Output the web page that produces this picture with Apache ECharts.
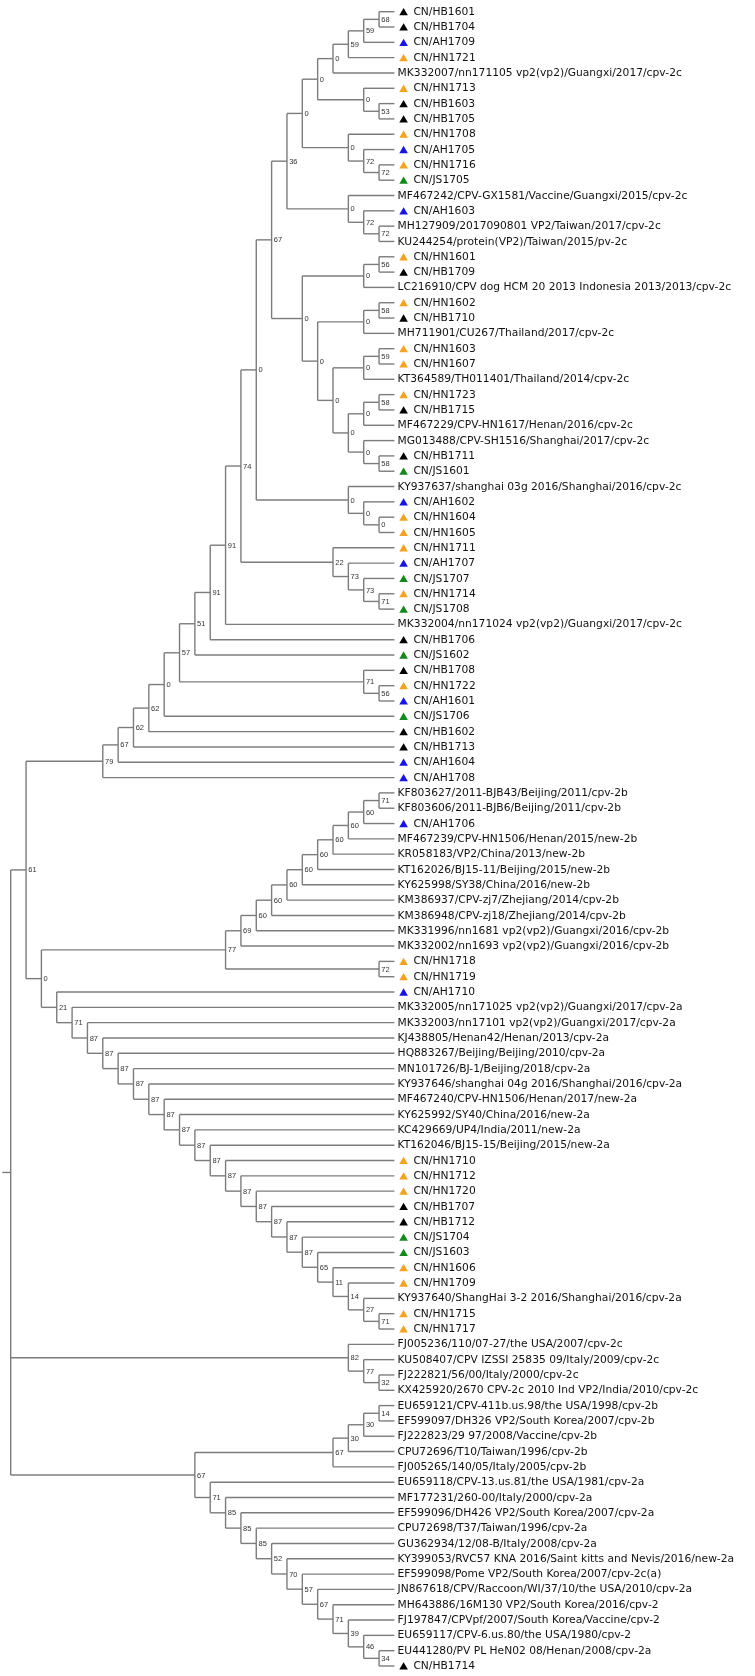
<!DOCTYPE html>
<html>
<head>
<meta charset="utf-8">
<script src="https://cdn.jsdelivr.net/npm/echarts@6/dist/echarts.min.js"></script>
<style>
html,body{margin:0;padding:0;background:#fff;}
#chart{width:755px;height:1676px;}
</style>
</head>
<body>
<div id="chart"></div>
<script>
// ---- Leaf labels (top to bottom) ----
const leafNames = [
  'CN/HB1601','CN/HB1704','CN/AH1709','CN/HN1721',
  'MK332007/nn171105 vp2(vp2)/Guangxi/2017/cpv-2c',
  'CN/HN1713','CN/HB1603','CN/HB1705','CN/HN1708','CN/AH1705','CN/HN1716','CN/JS1705',
  'MF467242/CPV-GX1581/Vaccine/Guangxi/2015/cpv-2c',
  'CN/AH1603',
  'MH127909/2017090801 VP2/Taiwan/2017/cpv-2c',
  'KU244254/protein(VP2)/Taiwan/2015/pv-2c',
  'CN/HN1601','CN/HB1709',
  'LC216910/CPV dog HCM 20 2013 Indonesia 2013/2013/cpv-2c',
  'CN/HN1602','CN/HB1710',
  'MH711901/CU267/Thailand/2017/cpv-2c',
  'CN/HN1603','CN/HN1607',
  'KT364589/TH011401/Thailand/2014/cpv-2c',
  'CN/HN1723','CN/HB1715',
  'MF467229/CPV-HN1617/Henan/2016/cpv-2c',
  'MG013488/CPV-SH1516/Shanghai/2017/cpv-2c',
  'CN/HB1711','CN/JS1601',
  'KY937637/shanghai 03g 2016/Shanghai/2016/cpv-2c',
  'CN/AH1602','CN/HN1604','CN/HN1605','CN/HN1711','CN/AH1707','CN/JS1707','CN/HN1714','CN/JS1708',
  'MK332004/nn171024 vp2(vp2)/Guangxi/2017/cpv-2c',
  'CN/HB1706','CN/JS1602','CN/HB1708','CN/HN1722','CN/AH1601','CN/JS1706','CN/HB1602','CN/HB1713','CN/AH1604','CN/AH1708',
  'KF803627/2011-BJB43/Beijing/2011/cpv-2b',
  'KF803606/2011-BJB6/Beijing/2011/cpv-2b',
  'CN/AH1706',
  'MF467239/CPV-HN1506/Henan/2015/new-2b',
  'KR058183/VP2/China/2013/new-2b',
  'KT162026/BJ15-11/Beijing/2015/new-2b',
  'KY625998/SY38/China/2016/new-2b',
  'KM386937/CPV-zj7/Zhejiang/2014/cpv-2b',
  'KM386948/CPV-zj18/Zhejiang/2014/cpv-2b',
  'MK331996/nn1681 vp2(vp2)/Guangxi/2016/cpv-2b',
  'MK332002/nn1693 vp2(vp2)/Guangxi/2016/cpv-2b',
  'CN/HN1718','CN/HN1719','CN/AH1710',
  'MK332005/nn171025 vp2(vp2)/Guangxi/2017/cpv-2a',
  'MK332003/nn17101 vp2(vp2)/Guangxi/2017/cpv-2a',
  'KJ438805/Henan42/Henan/2013/cpv-2a',
  'HQ883267/Beijing/Beijing/2010/cpv-2a',
  'MN101726/BJ-1/Beijing/2018/cpv-2a',
  'KY937646/shanghai 04g 2016/Shanghai/2016/cpv-2a',
  'MF467240/CPV-HN1506/Henan/2017/new-2a',
  'KY625992/SY40/China/2016/new-2a',
  'KC429669/UP4/India/2011/new-2a',
  'KT162046/BJ15-15/Beijing/2015/new-2a',
  'CN/HN1710','CN/HN1712','CN/HN1720','CN/HB1707','CN/HB1712','CN/JS1704','CN/JS1603','CN/HN1606','CN/HN1709',
  'KY937640/ShangHai 3-2 2016/Shanghai/2016/cpv-2a',
  'CN/HN1715','CN/HN1717',
  'FJ005236/110/07-27/the USA/2007/cpv-2c',
  'KU508407/CPV IZSSI 25835 09/Italy/2009/cpv-2c',
  'FJ222821/56/00/Italy/2000/cpv-2c',
  'KX425920/2670 CPV-2c 2010 Ind VP2/India/2010/cpv-2c',
  'EU659121/CPV-411b.us.98/the USA/1998/cpv-2b',
  'EF599097/DH326 VP2/South Korea/2007/cpv-2b',
  'FJ222823/29 97/2008/Vaccine/cpv-2b',
  'CPU72696/T10/Taiwan/1996/cpv-2b',
  'FJ005265/140/05/Italy/2005/cpv-2b',
  'EU659118/CPV-13.us.81/the USA/1981/cpv-2a',
  'MF177231/260-00/Italy/2000/cpv-2a',
  'EF599096/DH426 VP2/South Korea/2007/cpv-2a',
  'CPU72698/T37/Taiwan/1996/cpv-2a',
  'GU362934/12/08-B/Italy/2008/cpv-2a',
  'KY399053/RVC57 KNA 2016/Saint kitts and Nevis/2016/new-2a',
  'EF599098/Pome VP2/South Korea/2007/cpv-2c(a)',
  'JN867618/CPV/Raccoon/WI/37/10/the USA/2010/cpv-2a',
  'MH643886/16M130 VP2/South Korea/2016/cpv-2',
  'FJ197847/CPVpf/2007/South Korea/Vaccine/cpv-2',
  'EU659117/CPV-6.us.80/the USA/1980/cpv-2',
  'EU441280/PV PL HeN02 08/Henan/2008/cpv-2a',
  'CN/HB1714'
];

// ---- Province marker colours for the study strains ----
const provinceColors = { HB: '#000000', AH: '#1414e6', HN: '#f5a21e', JS: '#138a1c' };

// ---- Internal nodes: [id, bootstrap support, children...] (numbers = leaf index) ----
const internalNodes = [
  ['a1',68,0,1],['a2',59,'a1',2],['a3',59,'a2',3],['a4',0,'a3',4],
  ['a5',53,6,7],['a6',0,5,'a5'],['a7',0,'a4','a6'],
  ['a8',72,10,11],['a9',72,9,'a8'],['a10',0,8,'a9'],['a11',0,'a7','a10'],
  ['a12',72,14,15],['a13',72,13,'a12'],['a14',0,12,'a13'],['a15',36,'a11','a14'],
  ['b1',56,16,17],['b2',0,'b1',18],['b3',58,19,20],['b4',0,'b3',21],
  ['b5',59,22,23],['b6',0,'b5',24],['b7',58,25,26],['b8',0,'b7',27],
  ['b9',58,29,30],['b10',0,28,'b9'],['b11',0,'b8','b10'],['b12',0,'b6','b11'],
  ['b13',0,'b4','b12'],['b14',0,'b2','b13'],
  ['c1',67,'a15','b14'],['c2',0,33,34],['c3',0,32,'c2'],['c4',0,31,'c3'],['c5',0,'c1','c4'],
  ['d1',71,38,39],['d2',73,37,'d1'],['d3',73,36,'d2'],['d4',22,35,'d3'],
  ['e1',74,'c5','d4'],['e2',91,'e1',40],['e3',91,'e2',41],['e4',51,'e3',42],
  ['e5',56,44,45],['e6',71,43,'e5'],['e7',57,'e4','e6'],['e8',0,'e7',46],
  ['e9',62,'e8',47],['e10',62,'e9',48],['e11',67,'e10',49],['e12',79,'e11',50],
  ['f1',71,51,52],['f2',60,'f1',53],['f3',60,'f2',54],['f4',60,'f3',55],['f5',60,'f4',56],
  ['f6',60,'f5',57],['f7',60,'f6',58],['f8',60,'f7',59],['f9',60,'f8',60],['f10',69,'f9',61],
  ['f11',72,62,63],['f12',77,'f10','f11'],
  ['g1',71,85,86],['g2',27,84,'g1'],['g3',14,83,'g2'],['g4',11,82,'g3'],['g5',65,81,'g4'],
  ['g6',87,80,'g5'],['g7',87,79,'g6'],['g8',87,78,'g7'],['g9',87,77,'g8'],['g10',87,76,'g9'],
  ['g11',87,75,'g10'],['g12',87,74,'g11'],['g13',87,73,'g12'],['g14',87,72,'g13'],
  ['g15',87,71,'g14'],['g16',87,70,'g15'],['g17',87,69,'g16'],['g18',87,68,'g17'],
  ['g19',87,67,'g18'],['g20',87,66,'g19'],['g21',71,65,'g20'],['g22',21,64,'g21'],
  ['h1',0,'f12','g22'],['h2',61,'e12','h1'],
  ['i1',32,89,90],['i2',77,88,'i1'],['i3',82,87,'i2'],
  ['j1',14,91,92],['j2',30,'j1',93],['j3',30,'j2',94],['j4',67,'j3',95],
  ['k1',34,107,108],['k2',46,106,'k1'],['k3',39,105,'k2'],['k4',71,104,'k3'],['k5',67,103,'k4'],
  ['k6',57,102,'k5'],['k7',70,101,'k6'],['k8',52,100,'k7'],['k9',85,99,'k8'],['k10',85,98,'k9'],
  ['k11',85,97,'k10'],['k12',71,96,'k11'],['k13',67,'j4','k12'],
  ['root',null,'h2','i3','k13']
];

// ---- Layout (cladogram: x = node height, y = leaf order) ----
const nodeMap = {};
internalNodes.forEach(n => { nodeMap[n[0]] = { id: n[0], support: n[1], children: n.slice(2) }; });
function info(ref) {
  if (typeof ref === 'number') return { h: 0, y: ref };
  const n = nodeMap[ref];
  if (n.h === undefined) {
    const ci = n.children.map(info);
    n.h = Math.max.apply(null, ci.map(c => c.h)) + 1;
    n.y = (ci[0].y + ci[ci.length - 1].y) / 2;
    n.ci = ci;
  }
  return { h: n.h, y: n.y };
}
const rootInfo = info('root');

const segments = [];
const supportData = [];
internalNodes.forEach(row => {
  const n = nodeMap[row[0]];
  const ci = n.ci;
  segments.push([n.h, ci[0].y, n.h, ci[ci.length - 1].y]);
  ci.forEach(c => segments.push([n.h, c.y, c.h, c.y]));
  if (n.support !== null) supportData.push([n.h, n.y, n.support]);
});
segments.push([rootInfo.h + 0.55, rootInfo.y, rootInfo.h, rootInfo.y]);

const leafData = leafNames.map((name, i) => [0, i, name]);

const chart = echarts.init(document.getElementById('chart'), null, { renderer: 'canvas' });
chart.setOption({
  animation: false,
  backgroundColor: '#ffffff',
  grid: { left: 10.7, top: 11.7, width: 383.7, height: 1654.3 },
  xAxis: { type: 'value', min: 0, max: 25, inverse: true, show: false },
  yAxis: { type: 'value', min: 0, max: leafNames.length - 1, inverse: true, show: false },
  series: [
    {
      type: 'custom',
      clip: false,
      data: segments,
      encode: { x: [0, 2], y: [1, 3] },
      renderItem: function (params, api) {
        const p1 = api.coord([api.value(0), api.value(1)]);
        const p2 = api.coord([api.value(2), api.value(3)]);
        return {
          type: 'line',
          shape: { x1: p1[0], y1: p1[1], x2: p2[0], y2: p2[1] },
          style: { stroke: '#7c7c7c', lineWidth: 1.4 }
        };
      }
    },
    {
      type: 'custom',
      clip: false,
      data: supportData,
      encode: { x: 0, y: 1 },
      renderItem: function (params, api) {
        const p = api.coord([api.value(0), api.value(1)]);
        return {
          type: 'text',
          x: p[0] + 2.2, y: p[1] + 0.5,
          style: {
            text: String(api.value(2)),
            fill: '#333333',
            fontSize: 7.5,
            fontFamily: 'Liberation Sans, Arial, sans-serif',
            verticalAlign: 'middle',
            align: 'left'
          }
        };
      }
    },
    {
      type: 'custom',
      clip: false,
      data: leafData,
      encode: { x: 0, y: 1 },
      renderItem: function (params, api) {
        const p = api.coord([api.value(0), api.value(1)]);
        const name = leafNames[params.dataIndex];
        const m = /^CN\/([A-Z]{2})/.exec(name);
        const children = [];
        let tx = p[0] + 3.2;
        if (m) {
          const cx = p[0] + 9.2, cy = p[1];
          children.push({
            type: 'polygon',
            shape: { points: [[cx - 4.3, cy + 3.6], [cx + 4.3, cy + 3.6], [cx, cy - 3.7]] },
            style: { fill: provinceColors[m[1]] || '#000' }
          });
          tx = p[0] + 19;
        }
        children.push({
          type: 'text',
          x: tx, y: p[1] + 0.3,
          style: {
            text: name,
            fill: '#111111',
            fontSize: 10.7,
            fontFamily: 'DejaVu Sans, sans-serif',
            verticalAlign: 'middle',
            align: 'left'
          }
        });
        return { type: 'group', children: children };
      }
    }
  ]
});
</script>
</body>
</html>
